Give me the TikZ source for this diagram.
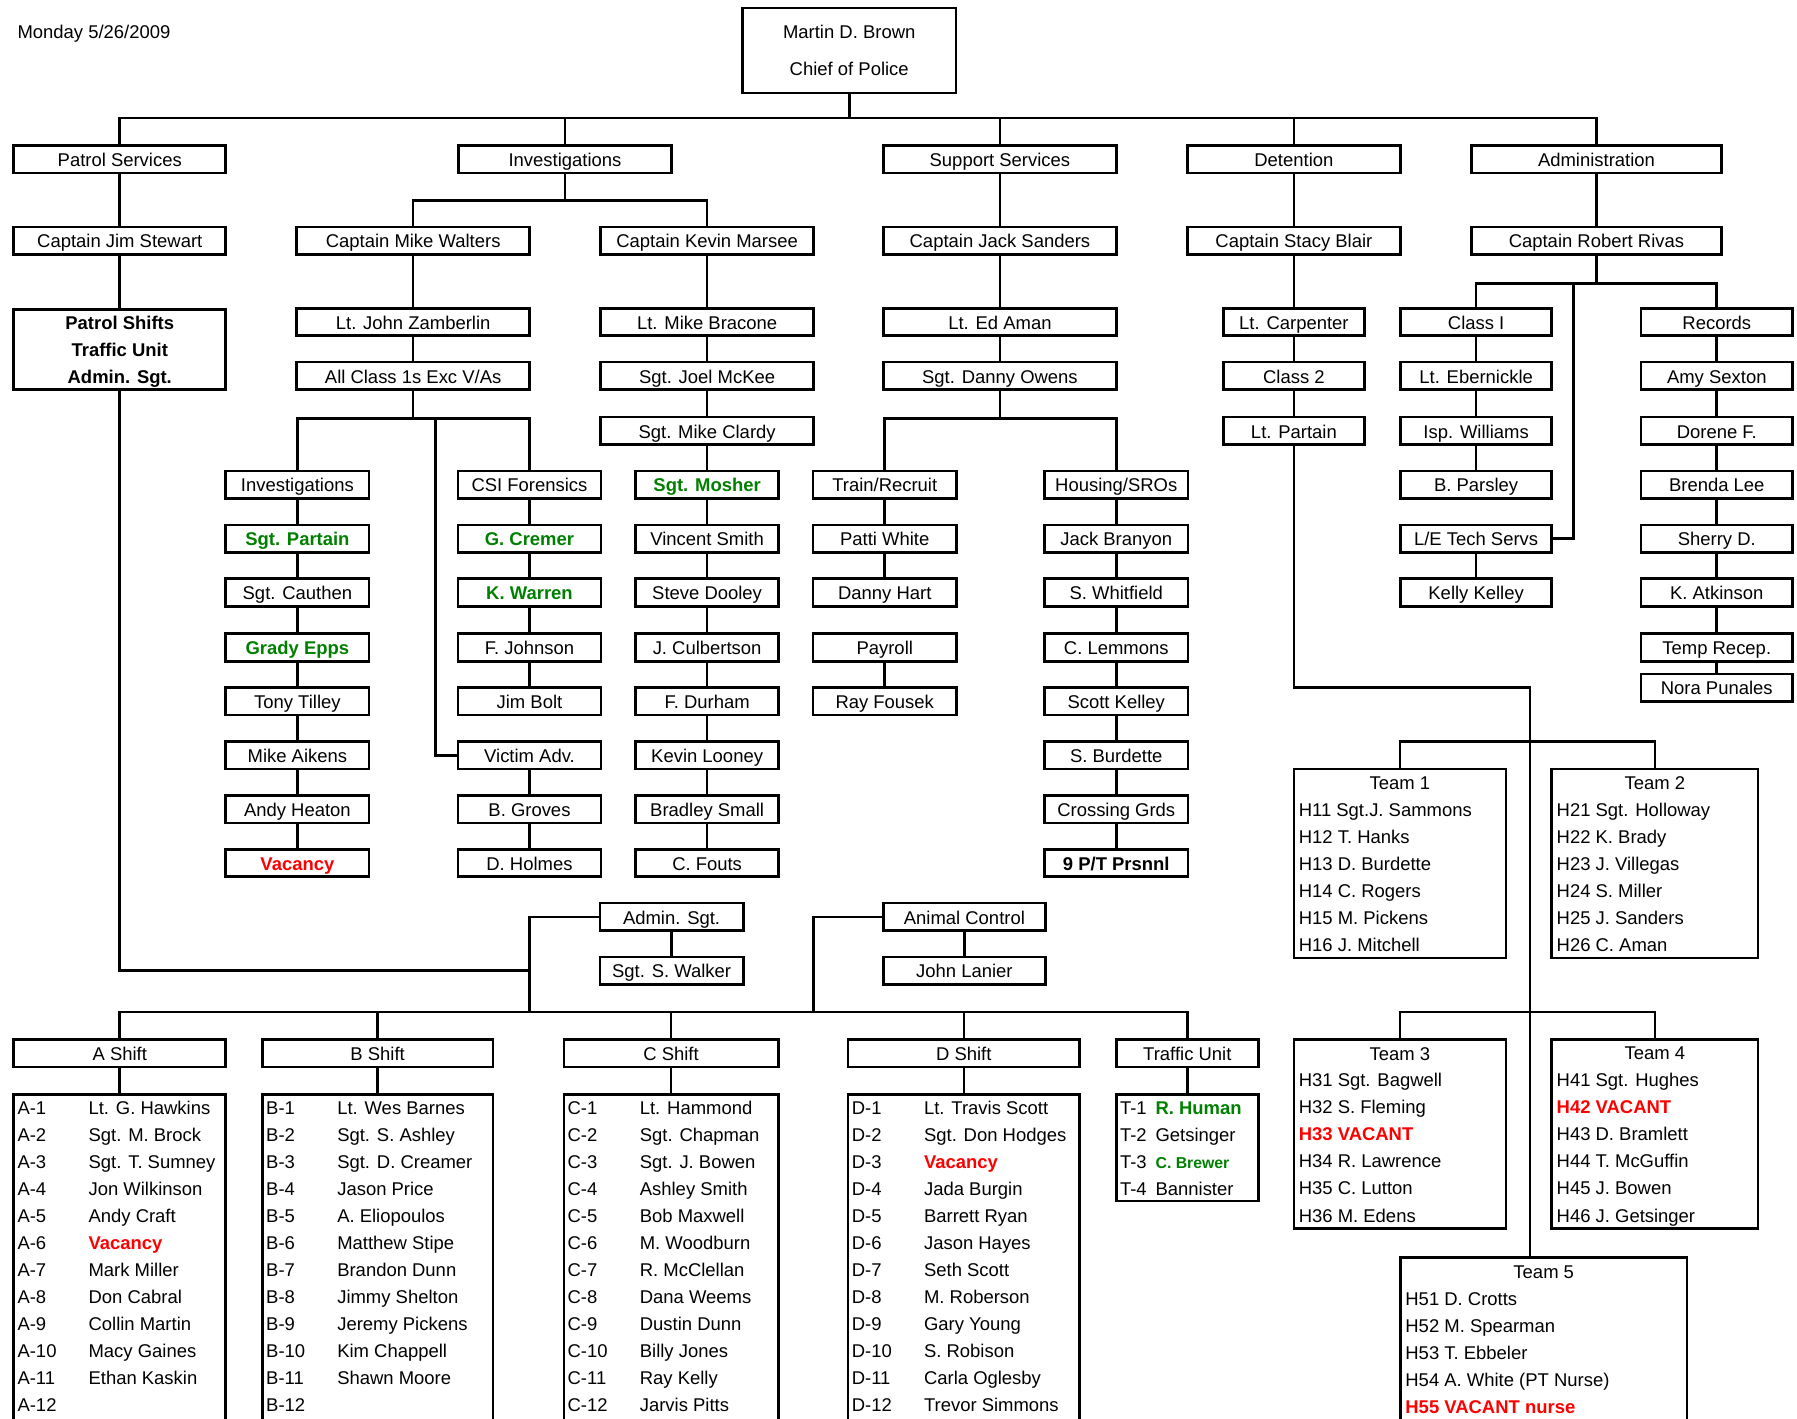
\documentclass[tikz,border=0pt]{standalone}
\usepackage{fontspec}
\setmainfont{Liberation Sans}
\usetikzlibrary{positioning}

\definecolor{okgreen}{RGB}{0,128,0}
\definecolor{vacred}{RGB}{255,0,0}
\newcommand{\pxu}{0.6522pt}
\newcommand{\ok}[1]{\textcolor{okgreen}{\bfseries #1}}
\newcommand{\vac}[1]{\textcolor{vacred}{\bfseries #1}}

\tikzset{
    box/.style={draw=black, line width=1.5pt, rectangle, inner sep=0pt,
        minimum height=24*\pxu, text height=8.2pt, text depth=0pt,
        font=\fontsize{10.5}{12.6}\selectfont},
    wd/.style={minimum width=#1*\pxu},
    row/.style={anchor=west, inner sep=0pt, text height=8.2pt, text depth=0pt,
        font=\fontsize{10.5}{12.6}\selectfont},
    link/.style={line width=1.5pt}
}

\begin{document}
\begin{tikzpicture}[x=0.02292cm, y=-0.02292cm]
    \path[use as bounding box, fill=white] (0, 0) rectangle (1568, 1238);
    \clip (0, 0) rectangle (1568, 1238);

    \node[row] (date) at (15, 27) {Monday 5/26/2009};

    % chief
    \node[box, wd=186, minimum height=74*\pxu] (CH) at (741, 44) {};
    \node[row, anchor=center] (CH_1) at (741, 27) {Martin D. Brown};
    \node[row, anchor=center] (CH_2) at (741, 60) {Chief of Police};

    \begin{scope}[every node/.style={box}]
        % divisions
        \node[wd=185] (PS) at (104.5, 139) {Patrol Services};
        \node[wd=186] (INV) at (493, 139) {Investigations};
        \node[wd=203] (SUP) at (872.5, 139) {Support Services};
        \node[wd=186] (DET) at (1129, 139) {Detention};
        \node[wd=218] (ADM) at (1393, 139) {Administration};

        % captains
        \node[wd=185] (PS_1) at (104.5, 210) {Captain Jim Stewart};
        \node[wd=203] (INV_W) at (360.5, 210) {Captain Mike Walters};
        \node[wd=186] (INV_M) at (617, 210) {Captain Kevin Marsee};
        \node[wd=203] (SUP_1) at (872.5, 210) {Captain Jack Sanders};
        \node[wd=186] (DET_1) at (1129, 210) {Captain Stacy Blair};
        \node[wd=218] (ADM_1) at (1393, 210) {Captain Robert Rivas};

        \node[wd=185, minimum height=70*\pxu] (PS_2) at (104.5, 305) {};

        \node[wd=203] (W_1) at (360.5, 281) {Lt. John Zamberlin};
        \node[wd=203] (W_2) at (360.5, 328) {All Class 1s Exc V/As};

        \node[wd=186] (K_1) at (617, 281) {Lt. Mike Bracone};
        \node[wd=186] (K_2) at (617, 328) {Sgt. Joel McKee};
        \node[wd=186] (K_3) at (617, 376) {Sgt. Mike Clardy};

        \node[wd=203] (SUP_2) at (872.5, 281) {Lt. Ed Aman};
        \node[wd=203] (SUP_3) at (872.5, 328) {Sgt. Danny Owens};

        \node[wd=123] (DET_2) at (1129, 281) {Lt. Carpenter};
        \node[wd=123] (DET_3) at (1129, 328) {Class 2};
        \node[wd=123] (DET_4) at (1129, 376) {Lt. Partain};
    \end{scope}

    \begin{scope}[every node/.style={box, wd=125}]
        \node (I_1) at (259.5, 423) {Investigations};
        \node (I_2) at (259.5, 470) {\ok{Sgt. Partain}};
        \node (I_3) at (259.5, 517) {Sgt. Cauthen};
        \node (I_4) at (259.5, 565) {\ok{Grady Epps}};
        \node (I_5) at (259.5, 612) {Tony Tilley};
        \node (I_6) at (259.5, 659) {Mike Aikens};
        \node (I_7) at (259.5, 706) {Andy Heaton};
        \node (I_8) at (259.5, 753) {\vac{Vacancy}};

        \node (F_1) at (462, 423) {CSI Forensics};
        \node (F_2) at (462, 470) {\ok{G. Cremer}};
        \node (F_3) at (462, 517) {\ok{K. Warren}};
        \node (F_4) at (462, 565) {F. Johnson};
        \node (F_5) at (462, 612) {Jim Bolt};
        \node (F_6) at (462, 659) {Victim Adv.};
        \node (F_7) at (462, 706) {B. Groves};
        \node (F_8) at (462, 753) {D. Holmes};

        \node (M_1) at (617, 423) {\ok{Sgt. Mosher}};
        \node (M_2) at (617, 470) {Vincent Smith};
        \node (M_3) at (617, 517) {Steve Dooley};
        \node (M_4) at (617, 565) {J. Culbertson};
        \node (M_5) at (617, 612) {F. Durham};
        \node (M_6) at (617, 659) {Kevin Looney};
        \node (M_7) at (617, 706) {Bradley Small};
        \node (M_8) at (617, 753) {C. Fouts};

        \node (T_1) at (772, 423) {Train/Recruit};
        \node (T_2) at (772, 470) {Patti White};
        \node (T_3) at (772, 517) {Danny Hart};
        \node (T_4) at (772, 565) {Payroll};
        \node (T_5) at (772, 612) {Ray Fousek};

        \node (H_1) at (974, 423) {Housing/SROs};
        \node (H_2) at (974, 470) {Jack Branyon};
        \node (H_3) at (974, 517) {S. Whitfield};
        \node (H_4) at (974, 565) {C. Lemmons};
        \node (H_5) at (974, 612) {Scott Kelley};
        \node (H_6) at (974, 659) {S. Burdette};
        \node (H_7) at (974, 706) {Crossing Grds};
        \node (H_8) at (974, 753) {\bfseries 9 P/T Prsnnl};

        \node (AS_1) at (586, 800) {Admin. Sgt.};
        \node (AS_2) at (586, 847) {Sgt. S. Walker};
        \node[wd=141] (AC_1) at (841.5, 800) {Animal Control};
        \node[wd=141] (AC_2) at (841.5, 847) {John Lanier};
    \end{scope}

    \begin{scope}[every node/.style={box, wd=132}]
        \node (C_1) at (1288, 281) {Class I};
        \node (C_2) at (1288, 328) {Lt. Ebernickle};
        \node (C_3) at (1288, 376) {Isp. Williams};
        \node (C_4) at (1288, 423) {B. Parsley};
        \node (C_5) at (1288, 470) {L/E Tech Servs};
        \node (C_6) at (1288, 517) {Kelly Kelley};

        \node (R_1) at (1498, 281) {Records};
        \node (R_2) at (1498, 328) {Amy Sexton};
        \node (R_3) at (1498, 376) {Dorene F.};
        \node (R_4) at (1498, 423) {Brenda Lee};
        \node (R_5) at (1498, 470) {Sherry D.};
        \node (R_6) at (1498, 517) {K. Atkinson};
        \node (R_7) at (1498, 565) {Temp Recep.};
        \node (R_8) at (1498, 600) {Nora Punales};
    \end{scope}

    % patrol shifts box text
    \node[row, anchor=center, font=\fontsize{10.5}{12.6}\selectfont\bfseries] (PS_2a) at (104.5, 281) {Patrol Shifts};
    \node[row, anchor=center, font=\fontsize{10.5}{12.6}\selectfont\bfseries] (PS_2b) at (104.5, 305) {Traffic Unit};
    \node[row, anchor=center, font=\fontsize{10.5}{12.6}\selectfont\bfseries] (PS_2c) at (104.5, 328) {Admin. Sgt.};

    % shifts
    \begin{scope}[every node/.style={box}]
        \node[wd=185] (SH_A) at (104.5, 919) {A Shift};
        \node[wd=201] (SH_B) at (329.5, 919) {B Shift};
        \node[wd=187] (SH_C) at (585.5, 919) {C Shift};
        \node[wd=202] (SH_D) at (841, 919) {D Shift};
        \node[wd=124] (SH_T) at (1036, 919) {Traffic Unit};

        \node[wd=185, minimum height=360*\pxu] (LS_A) at (104.5, 1135) {};
        \node[wd=201, minimum height=360*\pxu] (LS_B) at (329.5, 1135) {};
        \node[wd=187, minimum height=360*\pxu] (LS_C) at (585.5, 1135) {};
        \node[wd=202, minimum height=360*\pxu] (LS_D) at (841, 1135) {};
        \node[wd=124, minimum height=93*\pxu] (LS_T) at (1036, 1001.5) {};

        \node[wd=185, minimum height=165*\pxu] (TM_1) at (1221.5, 753.5) {};
        \node[wd=180, minimum height=165*\pxu] (TM_2) at (1444, 753.5) {};
        \node[wd=185, minimum height=165*\pxu] (TM_3) at (1221.5, 989.5) {};
        \node[wd=180, minimum height=165*\pxu] (TM_4) at (1444, 989.5) {};
        \node[wd=250, minimum height=220*\pxu] (TM_5) at (1347, 1207) {};
    \end{scope}

    % shift rosters
    \foreach \i in {1,...,12} {
        \node[row] (LA_\i) at (15, {966+23.6*(\i-1)}) {A-\i};
        \node[row] (LB_\i) at (232, {966+23.6*(\i-1)}) {B-\i};
        \node[row] (LC_\i) at (495, {966+23.6*(\i-1)}) {C-\i};
        \node[row] (LD_\i) at (743, {966+23.6*(\i-1)}) {D-\i};
    }
    \foreach \n [count=\i] in {Lt. G. Hawkins, Sgt. M. Brock, Sgt. T. Sumney, Jon Wilkinson, Andy Craft, \vac{Vacancy}, Mark Miller, Don Cabral, Collin Martin, Macy Gaines, Ethan Kaskin}
        \node[row] (NA_\i) at (77, {966+23.6*(\i-1)}) {\n};
    \foreach \n [count=\i] in {Lt. Wes Barnes, Sgt. S. Ashley, Sgt. D. Creamer, Jason Price, A. Eliopoulos, Matthew Stipe, Brandon Dunn, Jimmy Shelton, Jeremy Pickens, Kim Chappell, Shawn Moore}
        \node[row] (NB_\i) at (294, {966+23.6*(\i-1)}) {\n};
    \foreach \n [count=\i] in {Lt. Hammond, Sgt. Chapman, Sgt. J. Bowen, Ashley Smith, Bob Maxwell, M. Woodburn, R. McClellan, Dana Weems, Dustin Dunn, Billy Jones, Ray Kelly, Jarvis Pitts}
        \node[row] (NC_\i) at (558, {966+23.6*(\i-1)}) {\n};
    \foreach \n [count=\i] in {Lt. Travis Scott, Sgt. Don Hodges, \vac{Vacancy}, Jada Burgin, Barrett Ryan, Jason Hayes, Seth Scott, M. Roberson, Gary Young, S. Robison, Carla Oglesby, Trevor Simmons}
        \node[row] (ND_\i) at (806, {966+23.6*(\i-1)}) {\n};
    \foreach \n [count=\i] in {\ok{R. Human}, Getsinger, {\fontsize{9}{10}\selectfont\ok{C. Brewer}}, Bannister} {
        \node[row] (LT_\i) at (977, {966+23.6*(\i-1)}) {T-\i};
        \node[row] (NT_\i) at (1008, {966+23.6*(\i-1)}) {\n};
    }

    % detention teams
    \node[row, anchor=center] (TM_1t) at (1221.5, 683) {Team 1};
    \node[row, anchor=center] (TM_2t) at (1444, 683) {Team 2};
    \node[row, anchor=center] (TM_3t) at (1221.5, 919) {Team 3};
    \node[row, anchor=center] (TM_4t) at (1444, 918) {Team 4};
    \node[row, anchor=center] (TM_5t) at (1347, 1109) {Team 5};
    \foreach \n [count=\i] in {H11 Sgt.J. Sammons, H12 T. Hanks, H13 D. Burdette, H14 C. Rogers, H15 M. Pickens, H16 J. Mitchell}
        \node[row] (TA_\i) at (1133, {706+23.6*(\i-1)}) {\n};
    \foreach \n [count=\i] in {H21 Sgt. Holloway, H22 K. Brady, H23 J. Villegas, H24 S. Miller, H25 J. Sanders, H26 C. Aman}
        \node[row] (TB_\i) at (1358, {706+23.6*(\i-1)}) {\n};
    \foreach \n [count=\i] in {H31 Sgt. Bagwell, H32 S. Fleming, \vac{H33 VACANT}, H34 R. Lawrence, H35 C. Lutton, H36 M. Edens}
        \node[row] (TC_\i) at (1133, {942+23.6*(\i-1)}) {\n};
    \foreach \n [count=\i] in {H41 Sgt. Hughes, \vac{H42 VACANT}, H43 D. Bramlett, H44 T. McGuffin, H45 J. Bowen, H46 J. Getsinger}
        \node[row] (TD_\i) at (1358, {942+23.6*(\i-1)}) {\n};
    \foreach \n [count=\i] in {H51 D. Crotts, H52 M. Spearman, H53 T. Ebbeler, H54 A. White (PT Nurse), \vac{H55 VACANT nurse}}
        \node[row] (TE_\i) at (1226, {1133+23.6*(\i-1)}) {\n};

    % connectors
    \begin{scope}[link]
        \coordinate (bus) at (741, 103);
        \draw (CH) -- (bus);
        \draw (PS.north) |- (ADM.north |- bus) -- (ADM.north);
        \draw (INV) -- (INV |- bus);
        \draw (SUP) -- (SUP |- bus);
        \draw (DET) -- (DET |- bus);

        \draw (PS) -- (PS_1);
        \draw (PS_1) -- (PS_2);
        \draw (INV.south) -- ++(0, 23) -| (INV_W.north);
        \draw (INV.south) -- ++(0, 23) -| (INV_M.north);
        \draw (SUP) -- (SUP_1);
        \draw (DET) -- (DET_1);
        \draw (ADM) -- (ADM_1);

        \draw (INV_W) -- (W_1);
        \draw (W_1) -- (W_2);
        \draw (INV_M) -- (K_1);
        \draw (K_1) -- (K_2);
        \draw (K_2) -- (K_3);
        \draw (K_3) -- (M_1);
        \draw (SUP_1) -- (SUP_2);
        \draw (SUP_2) -- (SUP_3);
        \draw (DET_1) -- (DET_2);
        \draw (DET_2) -- (DET_3);
        \draw (DET_3) -- (DET_4);

        % Zamberlin and Owens
        \draw (W_2.south) -- ++(0, 24) -| (I_1.north);
        \draw (W_2.south) -- ++(0, 24) -| (F_1.north);
        \coordinate (vtrunk) at (380, 364);
        \draw (vtrunk) |- (F_6.west);
        \draw (SUP_3.south) -- ++(0, 24) -| (T_1.north);
        \draw (SUP_3.south) -- ++(0, 24) -| (H_1.north);

        \draw (I_1) -- (I_2) -- (I_3) -- (I_4) -- (I_5) -- (I_6) -- (I_7) -- (I_8);
        \draw (F_1) -- (F_2) -- (F_3) -- (F_4) -- (F_5);
        \draw (F_6) -- (F_7) -- (F_8);
        \draw (M_1) -- (M_2) -- (M_3) -- (M_4) -- (M_5) -- (M_6) -- (M_7) -- (M_8);
        \draw (T_1) -- (T_2) -- (T_3);
        \draw (T_4) -- (T_5);
        \draw (H_1) -- (H_2) -- (H_3) -- (H_4) -- (H_5) -- (H_6) -- (H_7) -- (H_8);

        % Rivas
        \draw (ADM_1.south) -- ++(0, 24) -| (C_1.north);
        \draw (ADM_1.south) -- ++(0, 24) -| (R_1.north);
        \coordinate (letrunk) at (1373, 246);
        \draw (C_5.east) -| (letrunk);
        \draw (C_1) -- (C_2) -- (C_3) -- (C_4);
        \draw (C_5) -- (C_6);
        \draw (R_1) -- (R_2) -- (R_3) -- (R_4) -- (R_5) -- (R_6) -- (R_7) -- (R_8);

        % detention teams
        \coordinate (dtrunk) at (1335, 600);
        \draw (DET_4.south) |- (dtrunk) -- (dtrunk |- TM_5.north);
        \coordinate (tbus1) at (1335, 647);
        \draw (TM_1.north) |- (TM_2.north |- tbus1) -- (TM_2.north);
        \coordinate (tbus2) at (1335, 883);
        \draw (TM_3.north) |- (TM_4.north |- tbus2) -- (TM_4.north);

        % patrol shifts
        \coordinate (pjoin) at (462, 847);
        \draw (PS_2.south) |- (pjoin);
        \draw (AS_1) -- (AS_2);
        \draw (AC_1) -- (AC_2);
        \coordinate (sbus) at (462, 883);
        \coordinate (abus) at (710, 883);
        \draw (AS_1.west) -| (sbus);
        \draw (AC_1.west) -| (abus);
        \draw (SH_A.north) |- (SH_T.north |- sbus) -- (SH_T.north);
        \draw (SH_B.north) -- (SH_B.north |- sbus);
        \draw (SH_C.north) -- (SH_C.north |- sbus);
        \draw (SH_D.north) -- (SH_D.north |- sbus);

        \draw (SH_A) -- (LS_A.north);
        \draw (SH_B) -- (LS_B.north);
        \draw (SH_C) -- (LS_C.north);
        \draw (SH_D) -- (LS_D.north);
        \draw (SH_T) -- (LS_T);
    \end{scope}
\end{tikzpicture}
\end{document}
